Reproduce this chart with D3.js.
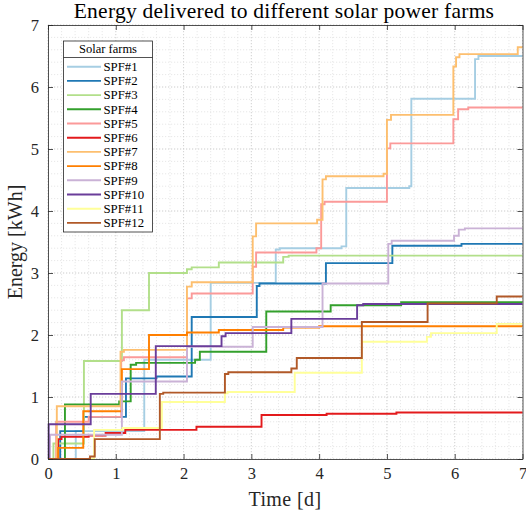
<!DOCTYPE html>
<html><head><meta charset="utf-8">
<script src="https://cdn.jsdelivr.net/npm/d3@7"></script>
<style>body{margin:0;background:#fff}svg{display:block}</style>
</head><body>
<svg id="c" width="526" height="514"></svg>
<script>
// ---- data (step-after: [time in days, cumulative energy kWh]) ----
const names = ["SPF#1","SPF#2","SPF#3","SPF#4","SPF#5","SPF#6","SPF#7","SPF#8","SPF#9","SPF#10","SPF#11","SPF#12"];
const colors = ["#a6cee3","#1f78b4","#b2df8a","#33a02c","#fb9a99","#e31a1c","#fdbf6f","#ff7f00","#cab2d6","#6a3d9a","#ffff99","#b15928"];
const spf1 = [[0,0],[0.41,0.45],[1.42,1.60],[2.40,2.84],[3.36,3.38],[3.42,3.40],[4.33,3.43],[4.40,4.37],[5.33,4.40],[5.36,5.81],[6.30,6.45],[6.35,6.50]];
const spf2 = [[0,0],[0.18,0.45],[0.53,0.68],[1.15,1.30],[1.60,1.33],[2.12,2.29],[3.08,2.79],[3.12,2.83],[4.10,3.16],[5.08,3.44],[6.10,3.47]];
const spf3 = [[0,0],[0.08,0.25],[0.53,1.58],[1.09,2.40],[1.49,3.00],[2.05,3.06],[2.12,3.09],[2.52,3.17],[3.47,3.26],[3.55,3.28]];
const spf4 = [[0,0],[0.25,0.88],[1.05,0.93],[1.22,1.52],[1.30,1.55],[2.17,1.60],[2.24,1.73],[3.22,2.38],[4.17,2.48],[5.21,2.53]];
const spf5 = [[0,0],[0.12,0.60],[0.60,0.68],[1.08,1.59],[1.12,1.64],[2.05,2.59],[2.12,2.67],[3.02,3.10],[3.07,3.33],[3.96,3.40],[4.03,4.11],[4.08,4.15],[5.00,5.01],[5.05,5.09],[5.98,5.48],[6.05,5.64],[6.20,5.67]];
const spf6 = [[0,0],[0.15,0.32],[0.20,0.36],[0.60,0.38],[0.85,0.42],[1.14,0.47],[2.19,0.52],[3.15,0.71],[4.11,0.73],[5.14,0.75]];
const spf7 = [[0,0],[0.13,0.85],[1.07,1.73],[1.12,1.76],[2.05,2.78],[2.12,2.85],[3.02,3.59],[3.07,3.80],[3.97,3.86],[4.05,4.51],[4.10,4.56],[4.95,4.60],[5.00,5.47],[5.06,5.55],[5.98,6.33],[6.02,6.48],[6.07,6.53],[6.93,6.64]];
const spf8 = [[0,0],[0.15,0.18],[0.52,0.77],[1.09,1.45],[1.49,2.00],[2.05,2.04],[2.52,2.08],[3.47,2.12],[4.00,2.14]];
const spf9 = [[0,0],[0.03,0.39],[1.09,1.25],[2.05,1.81],[3.02,2.13],[4.05,2.83],[5.02,3.47],[5.07,3.52],[5.99,3.60],[6.06,3.70],[6.15,3.72]];
const spf10 = [[0,0],[0.01,0.56],[0.63,1.05],[1.59,1.82],[2.56,1.98],[2.62,2.03],[3.59,2.26],[4.56,2.48],[4.65,2.50]];
const spf11 = [[0,0],[0.68,0.47],[1.10,0.50],[1.68,0.92],[2.61,1.06],[2.65,1.08],[3.64,1.39],[4.63,1.89],[5.59,1.97],[5.65,2.03],[6.62,2.18]];
const spf12 = [[0,0],[0.62,0.04],[0.69,0.32],[1.65,1.05],[1.70,1.07],[2.61,1.37],[2.66,1.40],[3.59,1.46],[3.67,1.63],[4.63,2.21],[5.60,2.51],[6.62,2.62]];
const seriesData = [spf1,spf2,spf3,spf4,spf5,spf6,spf7,spf8,spf9,spf10,spf11,spf12];
const xTicks = [0,1,2,3,4,5,6,7];
const yTicks = [0,1,2,3,4,5,6,7];
const titleText = "Energy delivered to different solar power farms";
const xLabel = "Time [d]";
const yLabel = "Energy [kWh]";
const legendTitle = "Solar farms";

// ---- drawing ----
(function(){
const FONT = "'Liberation Serif','DejaVu Serif',serif";
const svg = d3.select("#c");
const L = 48, R = 522.5, T = 25, B = 459;
const x = d3.scaleLinear().domain([0,7]).range([L,R]);
const y = d3.scaleLinear().domain([0,7]).range([B,T]);
const XMAX = 7;

const minor = d3.range(0, 7.0001, 0.2);
const g = svg.append("g");
g.selectAll(".vx").data(minor).join("line")
  .attr("x1", d=>x(d)).attr("x2", d=>x(d)).attr("y1", T).attr("y2", B)
  .attr("stroke", "#dedede").attr("stroke-width", 0.7).attr("stroke-dasharray","1.2,1.8");
g.selectAll(".hy").data(minor).join("line")
  .attr("y1", d=>y(d)).attr("y2", d=>y(d)).attr("x1", L).attr("x2", R)
  .attr("stroke", "#dedede").attr("stroke-width", 0.7).attr("stroke-dasharray","1.2,1.8");
g.selectAll(".mx").data(xTicks).join("line")
  .attr("x1", d=>x(d)).attr("x2", d=>x(d)).attr("y1", T).attr("y2", B)
  .attr("stroke", "#d0d0d0").attr("stroke-width", 0.8).attr("stroke-dasharray","1.2,1.8");
g.selectAll(".my").data(yTicks).join("line")
  .attr("y1", d=>y(d)).attr("y2", d=>y(d)).attr("x1", L).attr("x2", R)
  .attr("stroke", "#d0d0d0").attr("stroke-width", 0.8).attr("stroke-dasharray","1.2,1.8");

const line = d3.line().x(d=>x(d[0])).y(d=>y(d[1])).curve(d3.curveStepAfter);
seriesData.forEach((s,i)=>{
  const pts = s.concat([[XMAX, s[s.length-1][1]]]);
  svg.append("path").attr("d", line(pts)).attr("fill","none")
    .attr("stroke", colors[i]).attr("stroke-width", 1.9).attr("stroke-linejoin","miter");
});

const axisColor = "#262626";
const ax = svg.append("g");
ax.append("g").attr("transform",`translate(0,${B})`)
  .call(d3.axisBottom(x).tickValues(xTicks).tickSizeInner(-5).tickSizeOuter(0).tickPadding(8).tickFormat(d3.format("d")));
ax.append("g").attr("transform",`translate(0,${T})`)
  .call(d3.axisTop(x).tickValues(xTicks).tickSizeInner(-5).tickSizeOuter(0).tickFormat(""));
ax.append("g").attr("transform",`translate(${L},0)`)
  .call(d3.axisLeft(y).tickValues(yTicks).tickSizeInner(-5).tickSizeOuter(0).tickPadding(9).tickFormat(d3.format("d")));
ax.append("g").attr("transform",`translate(${R},0)`)
  .call(d3.axisRight(y).tickValues(yTicks).tickSizeInner(-5).tickSizeOuter(0).tickFormat(""));
ax.selectAll(".domain").attr("stroke", axisColor).attr("stroke-width", 0.8);
ax.selectAll(".tick line").attr("stroke", axisColor).attr("stroke-width", 0.8);
ax.selectAll(".tick text").attr("fill", "#262626").style("font-family", FONT).style("font-size","16.5px");

svg.append("text").attr("x", 284).attr("y", 18).attr("text-anchor","middle")
  .style("font-family", FONT).style("font-size","21.5px").style("letter-spacing","0.25px").attr("fill","#000").text(titleText);
svg.append("text").attr("x", 285).attr("y", 506).attr("text-anchor","middle")
  .style("font-family", FONT).style("font-size","20px").style("letter-spacing","0.4px").attr("fill","#262626").text(xLabel);
svg.append("text").attr("transform","translate(22,242) rotate(-90)").attr("text-anchor","middle")
  .style("font-family", FONT).style("font-size","20px").attr("fill","#262626").text(yLabel);

const lg = svg.append("g");
const LX = 63.5, LY = 41, LW = 89, LH = 191, rowH = 14.2;
lg.append("rect").attr("x", LX).attr("y", LY).attr("width", LW).attr("height", LH)
  .attr("fill","#fff").attr("stroke", "#262626").attr("stroke-width", 0.8);
lg.append("text").attr("x", LX + LW/2).attr("y", LY + 11.5).attr("text-anchor","middle")
  .style("font-family", FONT).style("font-size","12.5px").attr("fill","#000").text(legendTitle);
lg.append("line").attr("x1", LX).attr("x2", LX+LW).attr("y1", LY+16.5).attr("y2", LY+16.5)
  .attr("stroke","#262626").attr("stroke-width",0.8);
names.forEach((n,i)=>{
  const yy = LY + 25.7 + i*rowH;
  lg.append("line").attr("x1", LX+3.5).attr("x2", LX+37.5).attr("y1", yy).attr("y2", yy)
    .attr("stroke", colors[i]).attr("stroke-width", 1.9);
  lg.append("text").attr("x", LX+40).attr("y", yy+4.3)
    .style("font-family", FONT).style("font-size","12.8px").attr("fill","#000").text(n);
});
})();
</script>
</body></html>
